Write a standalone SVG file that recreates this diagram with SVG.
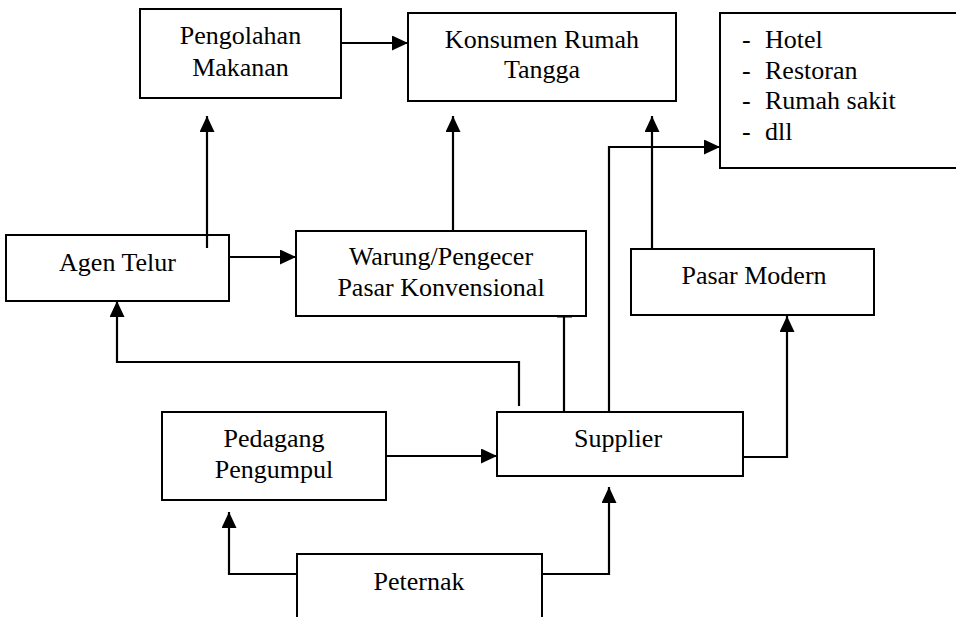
<svg xmlns="http://www.w3.org/2000/svg" width="956" height="617" viewBox="0 0 956 617">
<style>
.box{fill:#fff;stroke:#000;stroke-width:2}
.t{font-family:'Liberation Serif','Times New Roman',Times,Tinos,'DejaVu Serif',serif;font-size:26px;fill:#000;text-anchor:middle}
.l{font-family:'Liberation Serif','Times New Roman',Times,Tinos,'DejaVu Serif',serif;font-size:26px;fill:#000}
.c{fill:none;stroke:#000;stroke-width:2.2}
.a{marker-end:url(#ah)}
</style>
<defs>
<marker id="ah" markerUnits="userSpaceOnUse" markerWidth="16" markerHeight="15" refX="16" refY="7.5" orient="auto">
<path d="M0,0 L16,7.5 L0,15 z" fill="#000"/>
</marker>
</defs>
<rect width="956" height="617" fill="#fff"/>
<g id="pengolahan">
<rect class="box" x="140" y="9" width="201" height="89"/>
<text class="t" x="240.5" y="44">Pengolahan</text>
<text class="t" x="240.5" y="76">Makanan</text>
</g>
<g id="konsumen">
<rect class="box" x="408" y="13" width="268" height="88"/>
<text class="t" x="542" y="48">Konsumen Rumah</text>
<text class="t" x="542" y="78">Tangga</text>
</g>
<g id="institusi">
<rect class="box" x="720" y="13" width="240" height="155"/>
<text class="l" x="742" y="48">-</text><text class="l" x="765" y="48">Hotel</text>
<text class="l" x="742" y="78.5">-</text><text class="l" x="765" y="78.5">Restoran</text>
<text class="l" x="742" y="109">-</text><text class="l" x="765" y="109">Rumah sakit</text>
<text class="l" x="742" y="139.5">-</text><text class="l" x="765" y="139.5">dll</text>
</g>
<g id="agen">
<rect class="box" x="6" y="235" width="223" height="66"/>
<text class="t" x="117.5" y="271">Agen Telur</text>
</g>
<g id="warung">
<rect class="box" x="296" y="231" width="290" height="85"/>
<text class="t" x="441" y="264.5">Warung/Pengecer</text>
<text class="t" x="441" y="296">Pasar Konvensional</text>
</g>
<g id="pasarmodern">
<rect class="box" x="631" y="249" width="243" height="66"/>
<text class="t" x="754" y="283.5">Pasar Modern</text>
</g>
<g id="supplier">
<rect class="box" x="497" y="412" width="246" height="64"/>
<text class="t" x="618" y="446.5">Supplier</text>
</g>
<g id="pedagang">
<rect class="box" x="162" y="412" width="224" height="88"/>
<text class="t" x="274" y="447">Pedagang</text>
<text class="t" x="274" y="478">Pengumpul</text>
</g>
<g id="peternak">
<rect class="box" x="297" y="554" width="245" height="80"/>
<text class="t" x="419" y="590">Peternak</text>
</g>
<g id="connectors">
<path class="c a" d="M341,43 H408"/>
<path class="c a" d="M207,248 V116"/>
<path class="c a" d="M229,257 H296"/>
<path class="c a" d="M453,231 V116"/>
<path class="c a" d="M652,249 V116"/>
<path class="c a" d="M609,412 V147 H720"/>
<path class="c a" d="M519,406 V362 H117 V301"/>
<path class="c" d="M564,412 V316 M557,316.5 H572"/>
<path class="c a" d="M743,457 H787 V316"/>
<path class="c a" d="M386,456 H497"/>
<path class="c a" d="M297,574 H229 V512"/>
<path class="c a" d="M542,574 H609 V487"/>
</g>
</svg>
